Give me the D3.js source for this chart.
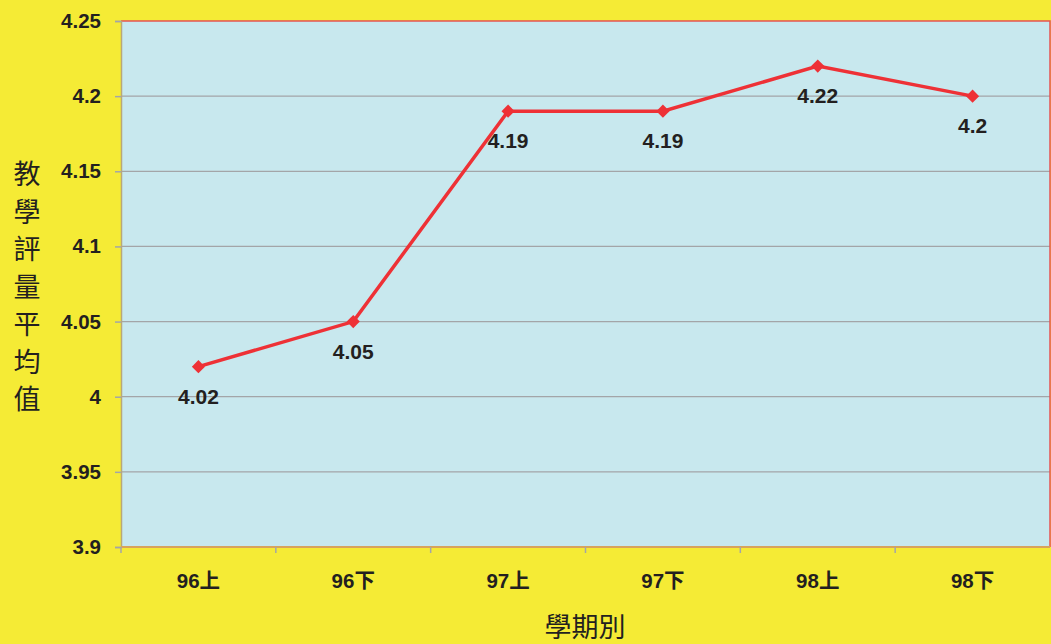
<!DOCTYPE html>
<html>
<head>
<meta charset="utf-8">
<script src="https://cdn.jsdelivr.net/npm/d3@7"></script>
<style>
  html, body { margin: 0; padding: 0; background: #f5eb35; }
  svg { display: block; }
  text { font-family: "Liberation Sans", Arial, "Noto Sans CJK TC", sans-serif; fill: #231f20; }
</style>
</head>
<body>
<svg width="1051" height="644"></svg>
<script>
const width = 1051;
const height = 644;
const margin = { top: 21, right: 1, bottom: 97, left: 121 };

// Data
const terms = ['96上', '96下', '97上', '97下', '98上', '98下'];
const scores = [4.02, 4.05, 4.19, 4.19, 4.22, 4.2];
const yTicks = [3.9, 3.95, 4, 4.05, 4.1, 4.15, 4.2, 4.25];
const yTitle = '教學評量平均值';
const xTitle = '學期別';

const svg = d3.select('svg');

const x = d3.scaleBand()
    .domain(terms)
    .range([margin.left, width - margin.right]);

const y = d3.scaleLinear()
    .domain([3.9, 4.25])
    .range([height - margin.bottom, margin.top]);

// plot background
svg.append('rect')
    .attr('x', margin.left)
    .attr('y', margin.top)
    .attr('width', width - margin.right - margin.left)
    .attr('height', height - margin.bottom - margin.top)
    .attr('fill', '#c8e8ee');

// grid lines
svg.append('g')
    .selectAll('line')
    .data(yTicks.slice(1, -1))
    .enter().append('line')
    .attr('x1', margin.left)
    .attr('x2', width - margin.right)
    .attr('y1', d => y(d))
    .attr('y2', d => y(d))
    .attr('stroke', '#a3a5a8')
    .attr('stroke-width', 1.2);

// top & right border (reddish)
svg.append('path')
    .attr('d', `M${margin.left},${margin.top}H${width - margin.right}V${height - margin.bottom}`)
    .attr('fill', 'none')
    .attr('stroke', '#e55353')
    .attr('stroke-width', 1.5);

// y axis
const yAxis = d3.axisLeft(y)
    .tickValues(yTicks)
    .tickSize(6)
    .tickPadding(14)
    .tickFormat(d3.format('~g'));

const gy = svg.append('g')
    .attr('transform', `translate(${margin.left},0)`)
    .call(yAxis);
gy.select('.domain').attr('stroke', '#b8a87a').attr('stroke-width', 1.5);
gy.selectAll('.tick line').attr('stroke', '#a3a5a8').attr('stroke-width', 1.5);
gy.selectAll('.tick text')
    .style('font-size', '20.5px')
    .style('font-weight', 'bold')
    .attr('fill', '#231f20');

// x axis (ticks at category boundaries)
const gx = svg.append('g')
    .attr('transform', `translate(0,${height - margin.bottom})`);
gx.append('line')
    .attr('x1', margin.left)
    .attr('x2', width - margin.right)
    .attr('stroke', '#d8a35c')
    .attr('stroke-width', 2);
gx.selectAll('.bound')
    .data(terms)
    .enter().append('line')
    .attr('class', 'bound')
    .attr('x1', d => x(d))
    .attr('x2', d => x(d))
    .attr('y1', 0)
    .attr('y2', 6)
    .attr('stroke', '#a3a5a8')
    .attr('stroke-width', 1.5);
gx.selectAll('.lbl')
    .data(terms)
    .enter().append('text')
    .attr('class', 'lbl')
    .attr('x', d => x(d) + x.bandwidth() / 2)
    .attr('y', 41)
    .attr('text-anchor', 'middle')
    .style('font-size', '20.5px')
    .style('font-weight', 'bold')
    .text(d => d);

// line
const line = d3.line()
    .x((d, i) => x(terms[i]) + x.bandwidth() / 2)
    .y(d => y(d));

svg.append('path')
    .datum(scores)
    .attr('d', line)
    .attr('fill', 'none')
    .attr('stroke', '#ee3136')
    .attr('stroke-width', 3.5)
    .attr('stroke-linejoin', 'miter');

// diamond markers
svg.append('g')
    .selectAll('path')
    .data(scores)
    .enter().append('path')
    .attr('d', d3.symbol().type(d3.symbolDiamond2).size(110))
    .attr('transform', (d, i) => `translate(${x(terms[i]) + x.bandwidth() / 2},${y(d)})`)
    .attr('fill', '#ee3136');

// value labels
svg.append('g')
    .selectAll('text')
    .data(scores)
    .enter().append('text')
    .attr('x', (d, i) => x(terms[i]) + x.bandwidth() / 2)
    .attr('y', d => y(d) + 37)
    .attr('text-anchor', 'middle')
    .style('font-size', '21px')
    .style('font-weight', 'bold')
    .text(d => d3.format('~g')(d));

// y title, vertical characters
svg.append('g')
    .selectAll('text')
    .data(Array.from(yTitle))
    .enter().append('text')
    .attr('x', 27)
    .attr('y', (d, i) => 184 + i * 37.5)
    .attr('text-anchor', 'middle')
    .style('font-family', '"Noto Sans CJK TC", sans-serif')
    .style('font-size', '27px')
    .text(d => d);

// x title
svg.append('text')
    .attr('x', 585)
    .attr('y', 637)
    .attr('text-anchor', 'middle')
    .style('font-family', '"Noto Sans CJK TC", sans-serif')
    .style('font-size', '27px')
    .text(xTitle);
</script>
</body>
</html>
